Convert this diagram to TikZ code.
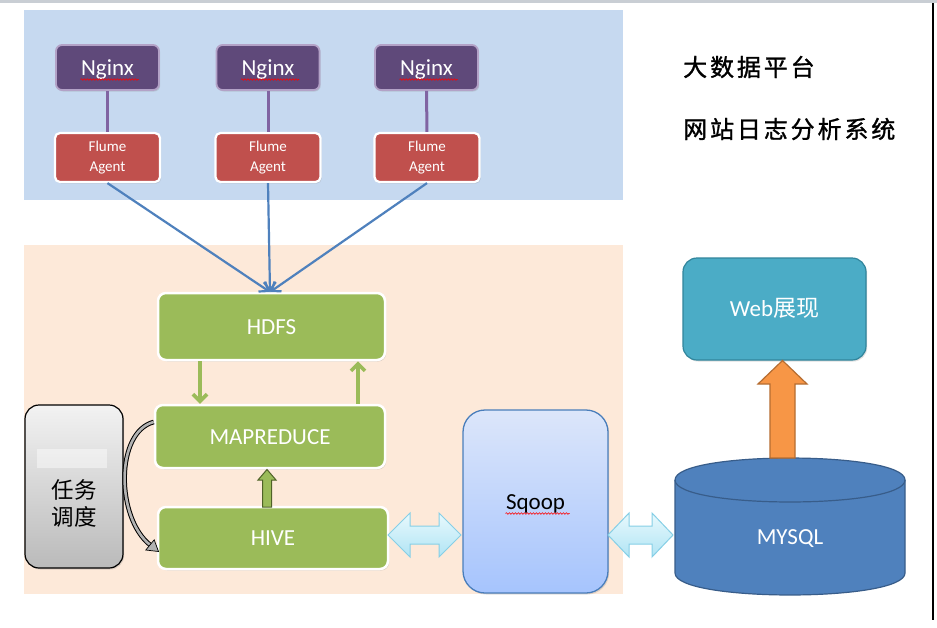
\documentclass[tikz,border=0pt]{standalone}
\usepackage{fontspec}
\setmainfont{Carlito}
\newfontfamily\cjk{Noto Sans CJK SC}
\newfontfamily\cjktitle[FakeBold=1.2,LetterSpace=12]{Noto Sans CJK SC}
\usetikzlibrary{arrows.meta,shadows,decorations.pathmorphing,calc}
\definecolor{bgblue}{HTML}{C6D9F0}
\definecolor{bgpeach}{HTML}{FDE9D9}
\definecolor{ngx}{HTML}{5F497A}
\definecolor{ngxb}{HTML}{B3A2C7}
\definecolor{flm}{HTML}{C0504D}
\definecolor{grn}{HTML}{9BBB59}
\definecolor{dgrn}{HTML}{4F6228}
\definecolor{blu}{HTML}{4F81BD}
\definecolor{dblu}{HTML}{385D8A}
\definecolor{purp}{HTML}{8064A2}
\definecolor{tealA}{HTML}{4BACC6}
\definecolor{tealB}{HTML}{31859C}
\definecolor{orng}{HTML}{F79646}
\definecolor{dorng}{HTML}{B66D31}
\definecolor{sqt}{HTML}{DCE6FA}
\definecolor{sqb}{HTML}{A6C4FD}
\definecolor{sqd}{HTML}{4A7EBB}
\definecolor{cyt}{HTML}{E8F9FD}
\definecolor{cyb}{HTML}{B0E4F4}
\definecolor{cyd}{HTML}{86CFE6}
\definecolor{topbar}{HTML}{C9CED4}
\tikzset{
  shd/.style={drop shadow={opacity=0.25, shadow xshift=1.2pt, shadow yshift=-1.5pt}},
  capc/.style={text height=15pt, text depth=0pt},
  ngxbox/.style={rectangle, rounded corners=6pt, fill=ngx, draw=ngxb, line width=1.8pt,
    text=white, minimum width=103pt, minimum height=45pt, inner sep=0pt,
    font=\fontsize{23}{26}\selectfont, capc, shd},
  flbox/.style={rectangle, rounded corners=5pt, fill=flm, draw=white, line width=2.2pt,
    text=white, minimum width=105pt, minimum height=49pt, inner sep=0pt, align=center,
    font=\fontsize{15}{20}\selectfont, shd},
  gbox/.style={rectangle, rounded corners=8pt, fill=grn, draw=white, line width=2.5pt,
    text=white, minimum height=64pt, inner sep=0pt, font=\fontsize{23}{26}\selectfont, capc, shd},
  taskbox/.style={rectangle, rounded corners=14pt, top color=white!95!black, bottom color=white!73!black,
    draw=black, line width=1.2pt, minimum width=98pt, minimum height=163pt, inner sep=0pt, shd},
  tasktext/.style={align=center, inner sep=0pt, font=\cjk\fontsize{22.5}{27}\selectfont},
  sqbox/.style={rectangle, rounded corners=22pt, top color=sqt, bottom color=sqb, draw=sqd,
    line width=1.3pt, minimum width=145pt, minimum height=183pt, inner sep=0pt,
    font=\fontsize{23}{26}\selectfont, capc, shd},
  webbox/.style={rectangle, rounded corners=14pt, fill=tealA, draw=tealB, line width=1.2pt,
    text=white, minimum width=183pt, minimum height=102pt, inner sep=0pt,
    font=\fontsize{23}{26}\selectfont, capc, shd},
  plink/.style={purp, line width=3pt},
  blink/.style={blu, line width=2.2pt, -{Straight Barb[length=8pt,width=12pt]}},
  glink/.style={grn, line width=3.6pt, -{Straight Barb[length=7pt,width=14pt]}},
  dbl/.style={top color=cyt, bottom color=cyb, draw=cyd, line width=1pt},
  wavy/.style={red, line width=0.6pt, decorate, decoration={snake, amplitude=0.8pt, segment length=3pt}},
  titletext/.style={anchor=west, inner sep=0pt, font=\cjktitle\fontsize{24}{28}\selectfont},
  ltext/.style={text=white, font=\fontsize{23}{26}\selectfont, capc}
}
\begin{document}
\begin{tikzpicture}[x=1pt,y=-1pt]
\useasboundingbox (0,0) rectangle (937,627);
\fill[white] (0,0) rectangle (937,627);
\fill[topbar] (0,0) rectangle (937,3);
\draw[black, line width=2pt] (933,3) -- (933,620);
% regions
\fill[bgblue] (24,10) rectangle (623,200);
\fill[bgpeach] (24,245) rectangle (623,594);
% title
\node[titletext] (t1) at (683,67) {大数据平台};
\node[titletext] (t2) at (683,129) {网站日志分析系统};
% nginx + flume
\node[ngxbox] (n1) at (107.5,67.5) {Nginx};
\node[ngxbox] (n2) at (268,67.5) {Nginx};
\node[ngxbox] (n3) at (426.5,67.5) {Nginx};
\foreach \n in {n1,n2,n3}{
  \draw[wavy] ($(\n.center)+(-27,12)$) -- ($(\n.center)+(31,12)$);
}
\node[flbox] (f1) at (107.5,157.5) {Flume\\Agent};
\node[flbox] (f2) at (268,157.5) {Flume\\Agent};
\node[flbox] (f3) at (427,157.5) {Flume\\Agent};
\draw[plink] (n1) -- (f1);
\draw[plink] (n2) -- (f2);
\draw[plink] (n3) -- (f3);
% hadoop stack
\node[gbox, minimum width=227pt, minimum height=67pt] (hdfs) at (271.5,326.5) {HDFS};
\node[gbox, minimum width=230pt, minimum height=63pt] (mr) at (270,436.5) {MAPREDUCE};
\node[gbox, minimum width=230pt, minimum height=62pt] (hive) at (273,538) {HIVE};
\coordinate (hin) at (270,292);
\draw[blink] (f1.south) -- (hin);
\draw[blink] (f2.south) -- (hin);
\draw[blink] (f3.south) -- (hin);
\coordinate (ca) at (200,0);
\coordinate (cb) at (358,0);
\draw[glink] (hdfs.south -| ca) -- (mr.north -| ca);
\draw[glink] (mr.north -| cb) -- (hdfs.south -| cb);
% hive -> mapreduce block arrow
\filldraw[fill=grn, draw=dgrn, line width=1pt]
  (267,469.5) -- (276,480) -- (271.5,480) -- (271.5,507) -- (262.5,507) -- (262.5,480) -- (258,480) -- cycle;
% task scheduler
\node[taskbox] (task) at (74,486.5) {};
\fill[white, opacity=0.45] (37,449) rectangle (107,468);
\node[tasktext] (tasklbl) at (74,503) {任务\\调度};
\draw[black, line width=4.6pt] (mr.west |- 0,422) .. controls (115,432) and (116,518) .. (150.1,544.9);
\draw[white!70!black, line width=2.6pt] (mr.west |- 0,422) .. controls (115,432) and (116,518) .. (150.1,544.9);
\filldraw[fill=white!70!black, draw=black, line width=0.7pt] (145.8,550.0) -- (158.5,551.5) -- (154.2,539.8) -- cycle;
% sqoop
\node[sqbox] (sqoop) at (535.5,501.5) {Sqoop};
\draw[wavy] ($(sqoop.center)+(-30,12)$) -- ($(sqoop.center)+(34,12)$);
% double arrows
\path[dbl, draw=cyd] (388,535) -- (410,513) -- (410,526) -- (439,526) -- (439,513) -- (461,535)
  -- (439,557) -- (439,544) -- (410,544) -- (410,557) -- cycle;
\path[dbl, draw=cyd] (608,535) -- (629,513) -- (629,526) -- (652,526) -- (652,513) -- (673,535)
  -- (652,557) -- (652,544) -- (629,544) -- (629,557) -- cycle;
% mysql cylinder
\filldraw[fill=blu, draw=dblu, line width=1.2pt] (675,480) -- (675,573)
  .. controls (675,602.3) and (905,602.3) .. (905,573) -- (905,480)
  .. controls (905,450.7) and (675,450.7) .. (675,480) -- cycle;
\draw[dblu, line width=1.2pt] (675,480) .. controls (675,509.3) and (905,509.3) .. (905,480);
\node[ltext] (mysql) at (790,537) {MYSQL};
% web
\node[webbox] (web) at (774.5,309) {Web{\cjk 展现}};
\filldraw[fill=orng, draw=dorng, line width=1.2pt]
  (782.5,360.5) -- (807,384) -- (795,384) -- (795,458) -- (770,458) -- (770,384) -- (758,384) -- cycle;
\end{tikzpicture}
\end{document}
